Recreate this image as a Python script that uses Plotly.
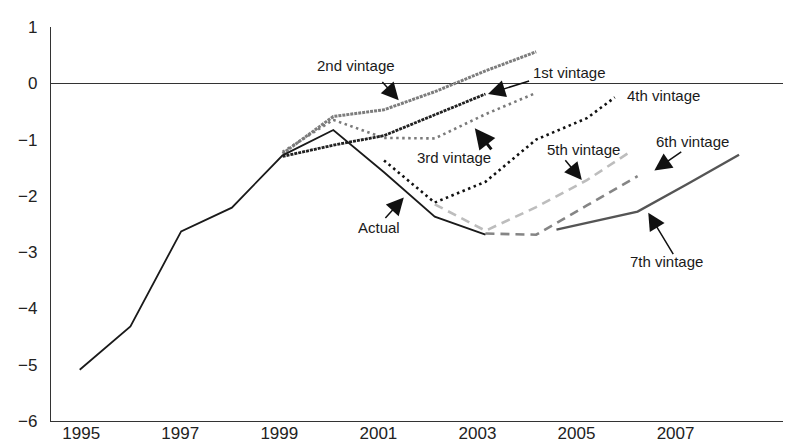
import plotly.graph_objects as go

# ---- data ----
actual_years = [1995, 1996, 1997, 1998, 1999, 2000, 2001, 2002, 2003]
actual_vals = [-5.09, -4.32, -2.63, -2.21, -1.28, -0.83, -1.58, -2.37, -2.69]

v1_years = [1999, 2000, 2001, 2002, 2003]
v1_vals = [-1.30, -1.10, -0.93, -0.56, -0.19]

v2_years = [1999, 2000, 2001, 2002, 2003, 2004]
v2_vals = [-1.25, -0.59, -0.47, -0.15, 0.22, 0.56]

v3_years = [1999, 2000, 2001, 2002, 2003, 2004]
v3_vals = [-1.22, -0.65, -0.97, -0.98, -0.55, -0.17]

v4_years = [2001, 2002, 2003, 2004, 2005, 2005.55]
v4_vals = [-1.37, -2.12, -1.75, -1.00, -0.62, -0.25]

v5_years = [2002, 2003, 2004, 2005, 2005.85]
v5_vals = [-2.15, -2.62, -2.20, -1.72, -1.22]

v6_years = [2003, 2004, 2005, 2006]
v6_vals = [-2.67, -2.69, -2.17, -1.65]

v7_years = [2004.4, 2006, 2007, 2008]
v7_vals = [-2.60, -2.28, -1.78, -1.27]

y_ticks = [-6, -5, -4, -3, -2, -1, 0, 1]
x_tick_years = [1995, 1997, 1999, 2001, 2003, 2005, 2007]

FONT = "Liberation Sans, Arial, sans-serif"

fig = go.Figure()

def add_line(xs, ys, color, width, dash):
    fig.add_trace(go.Scatter(x=xs, y=ys, mode="lines",
                             line=dict(color=color, width=width, dash=dash),
                             showlegend=False, hoverinfo="skip"))

add_line(v2_years, v2_vals, "#7d7d7d", 3.0, "3px,1px")
add_line(v3_years, v3_vals, "#7a7a7a", 2.6, "2.5px,3.5px")
add_line(v1_years, v1_vals, "#222222", 2.8, "3px,1px")
add_line(v4_years, v4_vals, "#111111", 2.6, "2.5px,3.5px")
add_line(v5_years, v5_vals, "#bdbdbd", 2.6, "9px,6px")
add_line(v6_years, v6_vals, "#858585", 2.6, "9px,6px")
add_line(v7_years, v7_vals, "#555555", 2.4, "solid")
add_line(actual_years, actual_vals, "#1a1a1a", 1.8, "solid")

# invisible trace to hold the label axis
fig.add_trace(go.Scatter(x=x_tick_years, y=[None] * len(x_tick_years), xaxis="x2",
                         mode="markers", showlegend=False, hoverinfo="skip"))

# ---- labels and arrows ----
labels = [
    ("2nd vintage", 2000.45, 0.31),
    ("1st vintage", 2004.65, 0.19),
    ("3rd vintage", 2002.38, -1.32),
    ("4th vintage", 2006.52, -0.21),
    ("5th vintage", 2004.94, -1.17),
    ("6th vintage", 2007.09, -1.03),
    ("7th vintage", 2006.56, -3.17),
    ("Actual", 2000.90, -2.56),
]
for txt, lx, ly in labels:
    fig.add_annotation(x=lx, y=ly, text=txt, showarrow=False,
                       font=dict(family=FONT, size=15, color="#1a1a1a"))

arrows = [  # head x, head y, tail x, tail y, width
    (2001.29, -0.30, 2000.94, 0.05, 1.5),
    (2003.05, -0.19, 2003.89, 0.05, 1.5),
    (2002.79, -0.80, 2003.14, -1.20, 3.0),
    (2004.90, -1.72, 2004.55, -1.34, 1.5),
    (2006.33, -1.55, 2006.89, -1.20, 1.5),
    (2006.21, -2.30, 2006.72, -3.06, 1.5),
    (2001.39, -2.03, 2001.00, -2.42, 1.5),
]
for hx, hy, tx, ty, w in arrows:
    fig.add_annotation(x=hx, y=hy, ax=tx, ay=ty, axref="x", ayref="y",
                       xref="x", yref="y", text="", showarrow=True,
                       arrowhead=2, arrowsize=2.3 if w < 2 else 1.35,
                       arrowwidth=w, arrowcolor="#111111")

# page body has an 8px margin, so the plot area is placed 8px up/left
fig.update_layout(
    width=791, height=448,
    margin=dict(l=36, r=14, t=10, b=35),
    paper_bgcolor="white", plot_bgcolor="white",
    font=dict(family=FONT, size=17, color="#222222"),
    xaxis=dict(range=[1994.434, 2008.906], showgrid=False, zeroline=False,
               showline=True, linecolor="#333333", linewidth=1.2,
               showticklabels=False, ticks=""),
    xaxis2=dict(range=[1994.39, 2009.21], overlaying="x", side="bottom",
                anchor="y", showgrid=False, zeroline=False, showline=False,
                tickvals=x_tick_years, ticktext=[str(y) for y in x_tick_years],
                ticks="", tickfont=dict(family=FONT, size=17, color="#222222")),
    yaxis=dict(range=[-6, 1], tickvals=y_ticks, showgrid=False,
               zeroline=True, zerolinecolor="#333333", zerolinewidth=1.2,
               showline=True, linecolor="#333333", linewidth=1.2,
               ticks="", ticklabelstandoff=9,
               tickfont=dict(family=FONT, size=17, color="#222222")),
)

fig.write_html("out.html")
